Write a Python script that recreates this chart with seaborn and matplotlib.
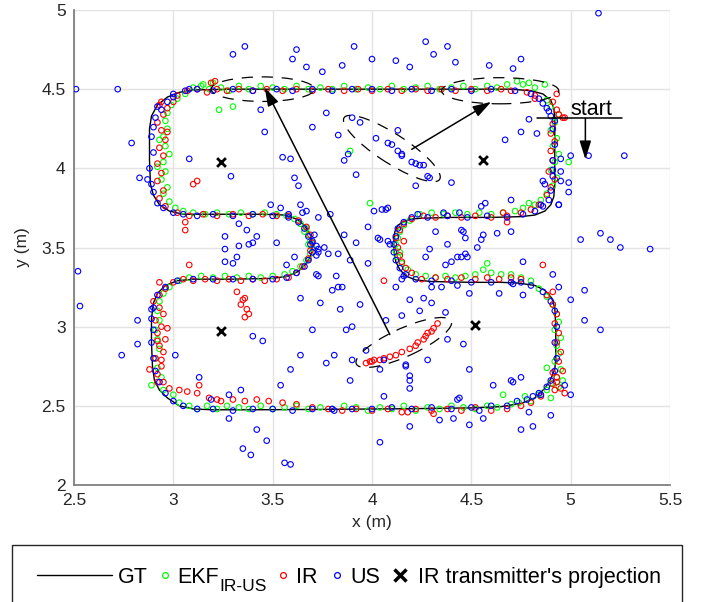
import matplotlib
matplotlib.use('Agg')
import matplotlib.pyplot as plt
from matplotlib.patches import Ellipse, Rectangle
from matplotlib.lines import Line2D
from matplotlib.text import Annotation
import seaborn as sns

# ground truth path (m), starting at the "start" mark and running clockwise
gt_x = [4.92, 4.92, 4.92, 4.915, 4.90, 4.87, 4.82, 4.75, 4.60, 4.40, 4.25, 4.20, 4.16, 4.13,
        4.115, 4.11, 4.11, 4.12, 4.14, 4.17, 4.22, 4.30, 4.50, 4.65, 4.74, 4.82, 4.87, 4.905,
        4.92, 4.925, 4.925, 4.92, 4.90, 4.87, 4.82, 4.75, 4.65, 4.50, 4.20, 3.80, 3.40, 3.20,
        3.10, 3.03, 2.97, 2.93, 2.905, 2.895, 2.89, 2.89, 2.90, 2.92, 2.96, 3.02, 3.10, 3.30,
        3.50, 3.58, 3.63, 3.67, 3.695, 3.70, 3.69, 3.66, 3.62, 3.56, 3.45, 3.20, 3.05, 2.98,
        2.93, 2.90, 2.885, 2.88, 2.88, 2.89, 2.92, 2.97, 3.03, 3.10, 3.30, 3.80, 4.30, 4.70,
        4.80, 4.86, 4.90, 4.915, 4.92]
gt_y = [4.32, 4.10, 3.90, 3.82, 3.77, 3.73, 3.705, 3.695, 3.69, 3.69, 3.685, 3.68, 3.665, 3.64,
        3.60, 3.55, 3.48, 3.41, 3.36, 3.32, 3.295, 3.285, 3.28, 3.28, 3.275, 3.26, 3.23, 3.18,
        3.12, 3.00, 2.80, 2.73, 2.67, 2.61, 2.55, 2.515, 2.495, 2.487, 2.482, 2.478, 2.475, 2.475,
        2.48, 2.50, 2.55, 2.60, 2.66, 2.75, 2.90, 3.05, 3.15, 3.21, 3.26, 3.29, 3.30, 3.30,
        3.305, 3.32, 3.35, 3.40, 3.46, 3.52, 3.58, 3.64, 3.68, 3.705, 3.71, 3.71, 3.71, 3.73,
        3.77, 3.83, 3.90, 4.05, 4.25, 4.33, 4.40, 4.45, 4.48, 4.495, 4.50, 4.50, 4.50, 4.50,
        4.49, 4.47, 4.43, 4.38, 4.32]

# EKF (IR-US fusion) estimates
ekf_pts = [
    (3.06, 4.47), (3.10, 4.51), (3.14, 4.52), (3.18, 4.50), (3.20, 4.54), (3.24, 4.51), (3.28, 4.49),
    (3.33, 4.52), (3.38, 4.50), (3.44, 4.52), (3.50, 4.51), (3.56, 4.50), (3.62, 4.52), (3.68, 4.50),
    (3.74, 4.51), (3.80, 4.50), (3.86, 4.52), (3.92, 4.50), (3.98, 4.51), (4.04, 4.50), (4.10, 4.52),
    (4.16, 4.50), (4.22, 4.51), (4.28, 4.52), (4.34, 4.50), (4.40, 4.51), (4.46, 4.52), (4.52, 4.50),
    (4.58, 4.52), (4.63, 4.51), (4.68, 4.53), (4.73, 4.55), (4.76, 4.53), (4.79, 4.54), (4.82, 4.51),
    (4.87, 4.53), (3.23, 4.37), (3.30, 4.39), (3.15, 4.53),
    (3.02, 4.44), (2.99, 4.40), (2.97, 4.35), (2.96, 4.30), (2.97, 4.25), (2.95, 4.20), (2.96, 4.14),
    (2.98, 4.09), (2.95, 4.04), (2.96, 3.98), (2.94, 3.93), (2.97, 3.88), (2.95, 3.84), (2.98, 3.79),
    (3.01, 3.75), (2.93, 4.18), (2.92, 4.01),
    (3.05, 3.73), (3.10, 3.72), (3.16, 3.71), (3.22, 3.72), (3.28, 3.71), (3.34, 3.72), (3.40, 3.71),
    (3.46, 3.72), (3.52, 3.71),
    (3.57, 3.70), (3.61, 3.68), (3.64, 3.65), (3.67, 3.62), (3.68, 3.58), (3.69, 3.54), (3.70, 3.50),
    (3.69, 3.46), (3.67, 3.42), (3.64, 3.38), (3.60, 3.35), (3.56, 3.33), (3.66, 3.60), (3.68, 3.52),
    (3.50, 3.32), (3.44, 3.31), (3.38, 3.32), (3.32, 3.31), (3.26, 3.32), (3.20, 3.31), (3.14, 3.32),
    (3.08, 3.31), (3.03, 3.29),
    (2.98, 3.25), (2.95, 3.21), (2.93, 3.16), (2.92, 3.10), (2.93, 3.04), (2.91, 2.98), (2.92, 2.92),
    (2.93, 2.86), (2.91, 2.80), (2.92, 2.74), (2.94, 2.68), (2.89, 2.63), (2.95, 2.60),
    (3.00, 2.57), (3.03, 2.52), (3.08, 2.50), (3.12, 2.48), (3.17, 2.50), (3.22, 2.48), (3.27, 2.50),
    (3.33, 2.49), (3.38, 2.48), (3.44, 2.50), (3.50, 2.48), (3.56, 2.49), (3.62, 2.50), (3.68, 2.48),
    (3.74, 2.49), (3.80, 2.48), (3.86, 2.50), (3.92, 2.49), (3.98, 2.47), (4.04, 2.49), (4.10, 2.48),
    (4.16, 2.50), (4.22, 2.47), (4.28, 2.49), (4.34, 2.48), (4.40, 2.50), (4.46, 2.49), (4.52, 2.48),
    (4.58, 2.50), (4.63, 2.49), (4.66, 2.57), (4.70, 2.51), (4.74, 2.52), (4.77, 2.56), (4.80, 2.53),
    (4.84, 2.57), (4.88, 2.60), (4.90, 2.64), (4.93, 2.68), (4.95, 2.73), (4.92, 2.78), (4.94, 2.83),
    (4.93, 2.88), (4.95, 2.93), (4.92, 2.98), (4.94, 3.03), (4.93, 3.08), (4.91, 3.14), (4.88, 3.19),
    (4.84, 3.24), (4.94, 2.62), (4.96, 2.66), (4.90, 2.55), (4.88, 2.74),
    (4.80, 3.29), (4.75, 3.31), (4.70, 3.33), (4.65, 3.33), (4.60, 3.34), (4.56, 3.36), (4.58, 3.40),
    (4.52, 3.33), (4.47, 3.32), (4.42, 3.31), (4.37, 3.32), (4.32, 3.31), (4.27, 3.32), (4.22, 3.33),
    (4.18, 3.36), (4.15, 3.40), (4.13, 3.44), (4.12, 3.48), (4.12, 3.52), (4.13, 3.56), (4.14, 3.60),
    (4.16, 3.64), (4.19, 3.67), (4.14, 3.47),
    (4.24, 3.71), (4.30, 3.72), (4.36, 3.71), (4.42, 3.72), (4.48, 3.71), (4.54, 3.72), (4.60, 3.71),
    (4.66, 3.72), (4.72, 3.73), (4.76, 3.75), (4.79, 3.78), (4.82, 3.77), (4.85, 3.80),
    (4.88, 3.84), (4.91, 3.89), (4.93, 3.94), (4.90, 3.99), (4.92, 4.04), (4.94, 4.09), (4.91, 4.14),
    (4.93, 4.19), (4.90, 4.24), (4.92, 4.29), (4.94, 4.34), (4.90, 4.39), (4.88, 4.43), (4.99, 4.04),
    (3.89, 4.11), (3.99, 3.78),
]

# IR-only estimates
ir_pts = [
    (3.02, 4.46), (3.07, 4.49), (3.12, 4.50), (3.17, 4.48), (3.22, 4.50), (3.27, 4.49), (3.33, 4.50),
    (3.40, 4.49), (3.47, 4.50), (3.55, 4.49), (3.62, 4.50), (3.70, 4.49), (3.78, 4.50), (3.86, 4.49),
    (3.93, 4.50), (4.00, 4.49), (4.08, 4.50), (4.15, 4.49), (4.22, 4.50), (4.28, 4.49), (4.35, 4.50),
    (4.42, 4.49), (4.50, 4.50), (4.58, 4.49), (4.65, 4.50), (4.70, 4.49), (4.78, 4.48), (4.82, 4.46),
    (3.19, 4.54), (3.21, 4.55), (4.93, 4.47), (4.91, 4.42), (4.93, 4.37), (4.94, 4.34), (4.96, 4.32),
    (4.97, 4.32), (4.82, 4.44),
    (4.91, 4.28), (4.90, 4.22), (4.92, 4.17), (4.90, 4.11), (4.91, 4.05), (4.89, 3.98), (4.92, 3.93),
    (4.90, 3.88), (4.88, 3.83),
    (4.84, 3.77), (4.80, 3.74), (4.75, 3.72), (4.68, 3.70), (4.60, 3.69), (4.52, 3.70), (4.45, 3.69),
    (4.38, 3.70), (4.32, 3.69), (4.26, 3.70), (4.20, 3.68), (4.66, 3.72), (4.68, 3.66),
    (4.16, 3.65), (4.14, 3.61), (4.12, 3.56), (4.13, 3.50), (4.14, 3.45), (4.15, 3.41), (4.17, 3.37),
    (4.20, 3.34), (4.06, 3.29), (4.16, 3.54),
    (4.25, 3.30), (4.32, 3.31), (4.38, 3.30), (4.45, 3.31), (4.52, 3.30), (4.58, 3.31), (4.64, 3.30),
    (4.70, 3.31), (4.86, 3.39), (4.91, 3.22), (4.75, 3.30),
    (4.88, 3.20), (4.91, 3.14), (4.93, 3.08), (4.92, 3.02), (4.94, 2.96), (4.93, 2.90), (4.95, 2.84),
    (4.94, 2.78), (4.96, 2.72), (4.93, 2.68), (4.91, 2.64), (4.95, 2.61), (4.97, 2.58), (4.91, 2.71),
    (4.93, 2.65), (4.92, 2.60),
    (4.85, 2.56), (4.80, 2.52), (4.75, 2.50), (4.68, 2.48), (4.60, 2.47), (4.52, 2.49), (4.45, 2.47),
    (4.38, 2.48), (4.30, 2.47), (4.22, 2.48), (4.15, 2.46), (4.08, 2.48), (4.00, 2.47), (3.92, 2.48),
    (3.85, 2.47), (3.78, 2.48), (3.70, 2.49), (3.62, 2.51), (3.55, 2.52), (3.48, 2.53), (3.42, 2.54),
    (3.36, 2.53), (3.30, 2.54), (3.24, 2.53), (3.22, 2.54), (3.18, 2.55), (3.12, 2.58), (3.07, 2.59),
    (3.03, 2.60), (2.98, 2.61), (4.31, 2.45), (4.18, 2.46), (3.13, 2.63),
    (2.95, 2.65), (2.92, 2.70), (2.94, 2.75), (2.91, 2.80), (2.95, 2.84), (2.93, 2.88), (2.96, 2.92),
    (2.92, 2.96), (2.94, 3.00), (2.91, 3.04), (2.95, 3.08), (2.93, 3.12), (2.90, 3.16), (2.93, 3.20),
    (2.96, 3.24), (3.00, 3.28), (2.97, 2.99), (2.92, 2.91), (2.94, 2.79), (2.88, 2.73), (2.92, 2.65),
    (2.93, 3.28), (3.08, 3.39),
    (3.05, 3.30), (3.10, 3.29), (3.16, 3.30), (3.22, 3.29), (3.28, 3.30), (3.34, 3.29), (3.40, 3.30),
    (3.46, 3.29), (3.52, 3.30), (3.58, 3.31),
    (3.32, 3.22), (3.35, 3.17), (3.36, 3.18), (3.34, 3.14), (3.37, 3.11), (3.38, 3.08), (3.36, 3.06),
    (3.62, 3.34), (3.65, 3.38), (3.68, 3.43), (3.69, 3.48), (3.70, 3.53), (3.69, 3.58), (3.67, 3.63),
    (3.63, 3.67), (3.58, 3.70),
    (3.52, 3.70), (3.45, 3.71), (3.38, 3.70), (3.30, 3.71), (3.22, 3.70), (3.15, 3.71), (3.08, 3.70),
    (3.02, 3.72), (3.06, 3.66), (3.06, 3.61), (3.10, 3.90), (3.12, 3.92),
    (2.96, 3.76), (2.93, 3.81), (2.95, 3.86), (2.92, 3.92), (2.94, 3.97), (2.92, 4.03), (2.95, 4.08),
    (2.93, 4.13), (2.96, 4.18), (2.94, 4.24), (2.92, 4.29), (2.95, 4.34), (2.97, 4.38), (3.00, 4.42),
    (2.94, 4.42), (2.93, 4.40), (2.97, 4.23),
    (3.97, 2.77), (3.99, 2.78), (4.00, 2.78), (4.01, 2.79), (4.04, 2.79), (4.06, 2.80), (4.09, 2.81),
    (4.12, 2.82), (4.15, 2.84), (4.19, 2.86), (4.22, 2.88), (4.23, 2.90), (4.26, 2.92), (4.27, 2.94),
    (4.28, 2.96), (4.30, 2.97), (4.31, 2.99), (4.33, 3.02),
]

# US-only estimates
us_pts = [
    (3.00, 4.47), (3.06, 4.49), (3.12, 4.50), (3.20, 4.49), (3.30, 4.50), (3.40, 4.49), (3.52, 4.50),
    (3.60, 4.49), (3.70, 4.50), (3.80, 4.49), (3.90, 4.50), (4.00, 4.50), (4.10, 4.49), (4.20, 4.50),
    (4.30, 4.49), (4.40, 4.50), (4.50, 4.49), (4.60, 4.50), (4.72, 4.49), (4.80, 4.47), (4.84, 4.44),
    (4.86, 4.41), (4.88, 4.38), (4.89, 4.36), (4.90, 4.33), (4.92, 4.30), (3.00, 4.45), (2.97, 4.42),
    (2.92, 4.39), (2.94, 4.37), (3.08, 4.50),
    (2.91, 4.32), (2.90, 4.26), (2.89, 4.20), (2.90, 4.10), (2.88, 4.00), (2.89, 3.90), (2.90, 3.85),
    (2.92, 3.78), (2.95, 3.75), (3.00, 3.72),
    (3.05, 3.71), (3.12, 3.70), (3.20, 3.71), (3.30, 3.70), (3.40, 3.71), (3.50, 3.70), (3.58, 3.69),
    (3.63, 3.66), (3.66, 3.62), (3.68, 3.57), (3.69, 3.52), (3.70, 3.47), (3.68, 3.42), (3.66, 3.38),
    (3.62, 3.34), (3.57, 3.31), (3.72, 3.45), (3.73, 3.49),
    (3.50, 3.30), (3.40, 3.30), (3.30, 3.30), (3.20, 3.30), (3.10, 3.30), (3.02, 3.29),
    (2.96, 3.25), (2.92, 3.20), (2.90, 3.12), (2.89, 3.05), (2.90, 2.98), (2.89, 2.90), (2.90, 2.80),
    (2.91, 2.72), (2.93, 2.65), (2.96, 2.58), (3.00, 2.53),
    (3.05, 2.50), (3.12, 2.48), (3.20, 2.48), (3.30, 2.47), (3.40, 2.48), (3.50, 2.48), (3.60, 2.47),
    (3.70, 2.48), (3.80, 2.48), (3.90, 2.48), (4.00, 2.48), (4.10, 2.49), (4.20, 2.48), (4.30, 2.49),
    (4.40, 2.48), (4.50, 2.49), (4.60, 2.50), (4.68, 2.50), (4.73, 2.53), (4.78, 2.54), (4.81, 2.56),
    (4.84, 2.58),
    (4.88, 2.62), (4.90, 2.66), (4.92, 2.72), (4.93, 2.80), (4.92, 2.90), (4.93, 3.00), (4.92, 3.10),
    (4.90, 3.16), (4.86, 3.22), (4.80, 3.26), (4.75, 3.28),
    (4.70, 3.28), (4.60, 3.28), (4.50, 3.28), (4.40, 3.29), (4.30, 3.29), (4.22, 3.30), (4.17, 3.33),
    (4.14, 3.37), (4.12, 3.42), (4.11, 3.47), (4.11, 3.52), (4.12, 3.57), (4.13, 3.62), (4.16, 3.66),
    (4.20, 3.69), (4.08, 3.54), (4.09, 3.52),
    (4.28, 3.69), (4.38, 3.70), (4.48, 3.69), (4.58, 3.70), (4.68, 3.69), (4.76, 3.71), (4.82, 3.73),
    (4.86, 3.76), (4.89, 3.80), (4.90, 3.86), (4.91, 3.95), (4.91, 4.05), (4.92, 4.15), (4.91, 4.25),
    (4.86, 3.92), (4.87, 3.90), (4.95, 3.92), (4.99, 3.85), (4.94, 3.77), (4.91, 3.99), (4.95, 3.98),
    (4.55, 3.55), (4.63, 3.59), (4.76, 3.41), (4.91, 3.33),
    (4.17, 2.76), (4.19, 2.69), (4.19, 2.61), (4.44, 2.55), (4.41, 2.42), (4.71, 2.65), (4.75, 2.68),
    (4.79, 2.46), (4.85, 2.57),
    (3.54, 3.75), (3.64, 3.77), (3.65, 3.72), (3.67, 3.73), (3.58, 3.71), (3.73, 3.69), (3.33, 3.65),
    (3.37, 3.61), (3.42, 3.57), (3.40, 3.53), (3.38, 3.52), (3.33, 3.51), (3.26, 3.57), (3.26, 3.49),
    (3.26, 3.41), (3.30, 3.40), (3.32, 3.44), (3.52, 3.53), (3.70, 3.54), (3.72, 3.51), (3.73, 3.47),
    (3.78, 3.46), (3.83, 3.46), (3.92, 3.53), (3.98, 3.63), (3.73, 3.32), (3.82, 3.32), (3.83, 3.25),
    (3.85, 3.25), (3.57, 3.39), (3.61, 3.44),
    (4.01, 3.73), (4.07, 3.74), (4.08, 3.75), (4.23, 3.71), (4.32, 3.60), (4.46, 3.60), (4.47, 3.56),
    (4.56, 3.58), (4.55, 3.76), (4.44, 3.72), (4.53, 3.50), (4.40, 3.41), (4.43, 3.44), (4.45, 3.44),
    (4.48, 3.44), (4.37, 3.39), (4.15, 3.30), (4.30, 3.25), (4.35, 3.25), (4.43, 3.26), (4.49, 3.21),
    (4.64, 3.21), (4.71, 3.27), (4.76, 3.20), (4.94, 3.25), (4.94, 3.77), (4.26, 3.18),
    (5.14, 4.98), (2.51, 4.50), (2.72, 4.50), (3.36, 4.77), (3.62, 4.75), (3.60, 4.69), (3.67, 4.64),
    (3.30, 4.72), (3.75, 4.61), (3.85, 4.65), (3.91, 4.77), (4.27, 4.80), (4.31, 4.72), (4.38, 4.77),
    (4.42, 4.67), (4.19, 4.64), (4.12, 4.68), (4.00, 4.69), (4.59, 4.65), (4.75, 4.69), (4.71, 4.63),
    (2.79, 4.16), (2.83, 3.94), (3.44, 4.37), (3.46, 4.23), (3.55, 4.07), (3.59, 4.06), (3.61, 3.94),
    (3.63, 3.89), (3.08, 4.06), (3.29, 3.95), (3.49, 3.77), (3.77, 4.35), (3.70, 4.26), (3.83, 4.21),
    (3.92, 3.96), (3.88, 4.09),
    (3.90, 4.32), (3.94, 4.29), (4.13, 4.24), (4.02, 4.19), (4.08, 4.16), (4.10, 4.15), (4.13, 4.11),
    (4.15, 4.09), (4.15, 4.08), (4.20, 4.04), (4.22, 4.03), (4.24, 4.02), (4.26, 4.02), (4.28, 3.95),
    (4.29, 3.94), (4.22, 3.89), (3.86, 4.05),
    (3.79, 3.71), (3.71, 3.58), (3.76, 3.50), (3.86, 3.58), (3.89, 3.42), (3.98, 3.40), (4.04, 3.55),
    (3.80, 3.23), (3.74, 3.15), (3.84, 3.11), (3.64, 3.18), (3.72, 3.33), (3.94, 3.14), (4.07, 3.04),
    (4.12, 3.25), (4.16, 3.32), (3.70, 2.98), (3.87, 2.98), (3.90, 3.00), (3.97, 2.85), (4.15, 3.07),
    (4.19, 3.17), (4.24, 3.10), (4.30, 3.15), (4.37, 3.09), (4.46, 2.89), (4.38, 2.92), (4.28, 2.79),
    (4.17, 2.75), (4.04, 2.73), (4.06, 2.79), (4.19, 2.66), (4.06, 2.56), (3.90, 2.79), (3.64, 2.82),
    (3.77, 2.77), (3.81, 2.82), (3.89, 2.66), (3.59, 2.73), (3.54, 2.63), (3.34, 2.60), (3.28, 2.57),
    (3.40, 2.94), (3.45, 2.91), (3.01, 2.82), (3.13, 2.68), (3.19, 2.54),
    (4.67, 4.18), (4.79, 4.31), (4.75, 4.23), (4.83, 4.22), (5.00, 4.08), (4.99, 3.91), (5.09, 4.08),
    (5.27, 4.08), (4.95, 4.06), (5.15, 3.59), (5.25, 3.50), (5.40, 3.49), (5.20, 3.55), (5.05, 3.55),
    (5.07, 3.23), (5.00, 3.17), (5.07, 3.04), (5.15, 2.98), (4.97, 2.63), (5.00, 2.57), (4.70, 2.66),
    (4.61, 2.63), (4.49, 2.73), (4.34, 2.41), (4.49, 2.38), (4.54, 2.47), (4.75, 2.35), (4.90, 2.44),
    (4.43, 2.54),
    (4.70, 3.60), (4.47, 3.46), (4.45, 3.61), (4.36, 3.72), (4.38, 3.52), (4.29, 3.49), (4.27, 3.44),
    (4.40, 3.91), (4.70, 3.80), (4.57, 3.78), (4.85, 3.77), (4.05, 3.74), (4.03, 3.56),
    (3.35, 2.23), (3.39, 2.19), (3.56, 2.14), (3.59, 2.13), (3.28, 2.42), (3.42, 2.35), (3.47, 2.28),
    (4.04, 2.27), (4.19, 2.37), (4.56, 2.42), (4.81, 2.37), (3.81, 2.47),
    (2.52, 3.35), (2.53, 3.13), (2.74, 2.82), (2.82, 2.89), (2.89, 3.11), (2.82, 3.04), (2.87, 3.93),
]

# IR transmitter projections on the floor
tx_x = [3.24, 4.56, 3.24, 4.52]
tx_y = [4.04, 4.05, 2.97, 3.01]

ekf_x, ekf_y = zip(*ekf_pts)
ir_x, ir_y = zip(*ir_pts)
us_x, us_y = zip(*us_pts)

sns.set_theme(style='white')
plt.rcParams['font.family'] = ['Liberation Sans', 'DejaVu Sans']

fig = plt.figure(figsize=(7.09, 6.02), dpi=100)
ax = fig.add_axes([74 / 709, 117 / 602, 596 / 709, 475 / 602])

green = '#00ff00'
red = '#ff0000'
blue = '#0000ff'

sns.lineplot(x=gt_x, y=gt_y, sort=False, estimator=None, color='black', linewidth=1.0, ax=ax, zorder=2)
sns.scatterplot(x=ekf_x, y=ekf_y, ax=ax, marker='o', s=16, facecolor='none', edgecolor=green, linewidth=0.8, zorder=3)
sns.scatterplot(x=ir_x, y=ir_y, ax=ax, marker='o', s=16, facecolor='none', edgecolor=red, linewidth=0.8, zorder=3)
sns.scatterplot(x=us_x, y=us_y, ax=ax, marker='o', s=16, facecolor='none', edgecolor=blue, linewidth=0.8, zorder=3)
sns.scatterplot(x=tx_x, y=tx_y, ax=ax, marker='x', s=40, color='black', linewidth=2, zorder=4)

# covariance ellipses
dash = (0, (9, 7))
for (cx, cy), w, h, ang in [((3.45, 4.50), 0.52, 0.155, 0),
                            ((4.645, 4.49), 0.59, 0.165, 0),
                            ((4.10, 4.125), 0.62, 0.17, -40),
                            ((4.16, 2.90), 0.55, 0.17, 30.6)]:
    ax.add_patch(Ellipse((cx, cy), w, h, angle=ang, fill=False, edgecolor='black',
                         linewidth=0.9, linestyle=dash, zorder=5))

arrow = dict(arrowstyle='-|>,head_length=0.8,head_width=0.25', color='black', lw=1.1,
             mutation_scale=14, shrinkA=0, shrinkB=0)
ax.annotate('', xy=(4.60, 4.42), xytext=(4.20, 4.12), arrowprops=arrow, zorder=6)
ax.annotate('', xy=(3.46, 4.51), xytext=(4.09, 2.95), arrowprops=arrow, zorder=6)

# start marker
ax.plot([4.83, 5.26], [4.317, 4.317], color='black', lw=1.1, zorder=6)
ax.annotate('', xy=(5.074, 4.057), xytext=(5.074, 4.317), arrowprops=arrow, zorder=6)
ax.text(5.0, 4.335, 'start', fontsize=15.5, color='black', va='baseline', ha='left')

ax.set_xlim(2.5, 5.5)
ax.set_ylim(2, 5)
ax.set_xticks([2.5, 3, 3.5, 4, 4.5, 5, 5.5])
ax.set_xticklabels(['2.5', '3', '3.5', '4', '4.5', '5', '5.5'])
ax.set_yticks([2, 2.5, 3, 3.5, 4, 4.5, 5])
ax.set_yticklabels(['2', '2.5', '3', '3.5', '4', '4.5', '5'])
ax.grid(True, color='#e3e3e3', linewidth=1)
ax.set_axisbelow(True)
for side in ['top', 'right']:
    ax.spines[side].set_visible(False)
for side in ['left', 'bottom']:
    ax.spines[side].set_color('#808080')
    ax.spines[side].set_linewidth(1.3)
ax.tick_params(direction='in', length=4, width=1, color='#808080', labelsize=12.5,
               labelcolor='#262626', pad=6)
ax.set_xlabel('x (m)', fontsize=12.5, color='#262626', labelpad=5)
ax.set_ylabel('y (m)', fontsize=12.5, color='#262626', labelpad=8)

# legend box at the bottom
fig.add_artist(Rectangle((12 / 709, -0.05), 670 / 709, 0.05 + 1 - 545 / 602,
                         transform=fig.transFigure, fill=False, edgecolor='#262626', linewidth=1))
ly = 1 - 575 / 602
tb = 1 - 583 / 602
fs = 15.5
fig.add_artist(Line2D([37 / 709, 112 / 709], [ly, ly], color='black', lw=1, transform=fig.transFigure))
fig.text(118 / 709, tb, 'GT', fontsize=fs, va='baseline', color='black')
for px, col in [(165, green), (283, red), (337, blue)]:
    fig.add_artist(Line2D([px / 709], [ly], marker='o', markersize=4.2, markerfacecolor='none',
                          markeredgecolor=col, markeredgewidth=0.9, transform=fig.transFigure))
fig.add_artist(Line2D([400 / 709], [ly], marker='x', markersize=9, color='black',
                      markeredgewidth=2.5, transform=fig.transFigure))
ekf_txt = fig.text(177 / 709, tb, 'EKF', fontsize=fs, va='baseline', color='black')
fig.add_artist(Annotation('IR-US', xy=(1, 0), xycoords=ekf_txt, xytext=(0.3, -2.5),
                          textcoords='offset points', fontsize=12.5, va='baseline', color='black'))
fig.text(296 / 709, tb, 'IR', fontsize=fs, va='baseline', color='black')
fig.text(350 / 709, tb, 'US', fontsize=fs, va='baseline', color='black')
fig.text(418 / 709, tb, "IR transmitter's projection", fontsize=fs, va='baseline', color='black')

fig.savefig('out.png', dpi=100)
